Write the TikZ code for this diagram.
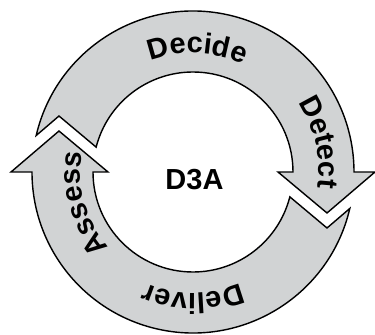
\documentclass[tikz,border=0pt]{standalone}
\usepackage{fontspec}
\setmainfont{Liberation Sans}
\usetikzlibrary{decorations.text}

\definecolor{ringgray}{RGB}{209,211,212}
\newcommand{\lblfont}{\fontsize{16.5}{20}\selectfont\bfseries}

\begin{document}
\begin{tikzpicture}[
    % Style for the two curved arrow bands (grey with black outline)
    band/.style={draw=black, thick, fill=ringgray, line join=miter},
    % Style for the words bent along the bands
    lbl/.style={decorate, decoration={text along path, text align=center}}
]

\useasboundingbox (-3.86,-3.26) rectangle (3.64,3.44);

% Macro for one half of the cycle: notched tail at the left, head at the right
\newcommand{\cyclearrow}{
    \draw[band] (-2.68,1.12) -- (166.9:3.22)
        arc[start angle=166.9, end angle=0, radius=3.22]
        -- (3.64,0) -- (2.68,-0.82) -- (1.7,0) -- (2,0)
        arc[start angle=0, end angle=165.6, radius=2] -- cycle;
}

% ==========================
% Arrow bands
% ==========================
% upper band (Decide / Detect)
\cyclearrow

% lower band (Deliver / Assess), same shape turned round
\begin{scope}[rotate=180]
    \cyclearrow
\end{scope}

% ==========================
% Labels
% ==========================
% all run clockwise so the letters face outwards
\path[lbl, decoration={text={|\lblfont|Decide}}]
    (123:2.38) arc[start angle=123, end angle=53, radius=2.38];
\path[lbl, decoration={text={|\lblfont|Detect}}]
    (48:2.52) arc[start angle=48, end angle=-22, radius=2.52];
\path[lbl, decoration={text={|\lblfont|Deliver}}]
    (-55:2.42) arc[start angle=-55, end angle=-125, radius=2.42];
\path[lbl, decoration={text={|\lblfont|Assess}}]
    (231:2.25) arc[start angle=231, end angle=161, radius=2.25];

% centre text
\node[font=\lblfont] (hub) at (0.03,-0.16) {D3A};

\end{tikzpicture}
\end{document}
